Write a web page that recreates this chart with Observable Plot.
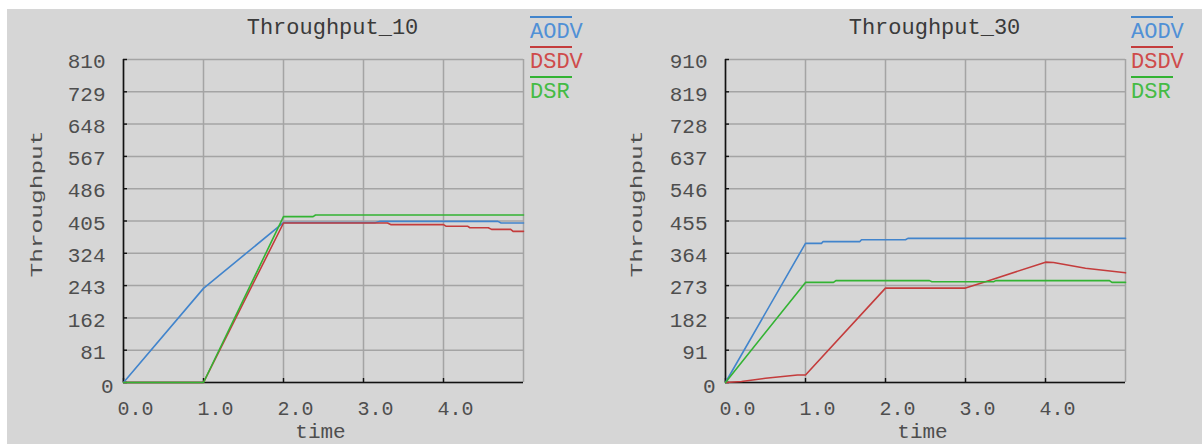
<!DOCTYPE html>
<html>
<head>
<meta charset="utf-8">
<script src="https://cdn.jsdelivr.net/npm/d3@7"></script>
<script src="https://cdn.jsdelivr.net/npm/@observablehq/plot@0.6"></script>
<style>
html, body { margin: 0; padding: 0; background: #fff; overflow: hidden; }
#wrap { position: relative; width: 1202px; height: 444px; background: #fff; overflow: hidden; }
#bg { position: absolute; left: 7px; top: 9px; right: 0; bottom: 0; background: #d6d6d6; }
.panel { position: absolute; top: 0; }
.legend { position: absolute; top: 0; font-family: "Liberation Mono", monospace; font-size: 22px; }
.legend .ln { position: absolute; left: 0; width: 42px; height: 2px; }
.legend .tx { position: absolute; left: 0; line-height: 22px; white-space: nowrap; }
</style>
</head>
<body>
<div id="wrap"><div id="bg"></div></div>
<script>
// ---- data ----
const protocols = ["AODV", "DSDV", "DSR"];
const lineColors = ["#4184cc", "#c43c3c", "#33b333"];
const legendTextColors = ["#5090d6", "#cf4b4b", "#45bb45"];

const xTicks = [0, 1, 2, 3, 4];
const xTickLabels = ["0.0", "1.0", "2.0", "3.0", "4.0"];
const xGrid = [0, 1, 2, 3, 4, 5];

const yTicks10 = [0, 81, 162, 243, 324, 405, 486, 567, 648, 729, 810];
const yTicks30 = [0, 91, 182, 273, 364, 455, 546, 637, 728, 819, 910];

const yLabel = "Throughput";
const xLabel = "time";

// Throughput_10 : [time, throughput]
const aodv10 = [[0,0],[1.0,236],[2.0,401],[3.15,401],[3.2,404],[4.68,404],[4.72,400],[5.0,400]];
const dsdv10 = [[0,0],[1.0,0],[2.0,400],[3.3,400],[3.34,396],[4.0,396],[4.03,392],[4.3,392],[4.33,388],[4.56,388],[4.6,384],[4.84,384],[4.87,379],[5.0,379]];
const dsr10  = [[0,0],[1.0,0],[2.0,416],[2.37,416],[2.4,420],[5.0,420]];

// Throughput_30 : [time, throughput]
const aodv30 = [[0,0],[1.0,392],[1.2,392],[1.22,397],[1.68,397],[1.7,402],[2.25,402],[2.28,406],[5.0,406]];
const dsdv30 = [[0,0],[0.2,3],[0.5,12],[0.9,21],[1.0,21],[2.0,266],[3.0,266],[3.25,284],[4.0,339],[4.1,338],[4.5,322],[5.0,309]];
const dsr30  = [[0,0],[1.0,282],[1.35,282],[1.38,287],[2.55,287],[2.58,284],[3.35,284],[3.38,287],[4.8,287],[4.83,282],[5.0,282]];

const panels = [
  {title: "Throughput_10", series: [aodv10, dsdv10, dsr10], yTicks: yTicks10, left: 0, width: 600, ml: 123, legendX: 530, ylDx: -87},
  {title: "Throughput_30", series: [aodv30, dsdv30, dsr30], yTicks: yTicks30, left: 600, width: 602, ml: 125, legendX: 1131, ylDx: -89}
];

const MT = 59, MB = 62, MR = 77, H = 444;
const textColor = "#4e4e4e";

function makePanel(p) {
  const rows = p.series.flatMap((s, i) => s.map(([t, v]) => ({t, v, p: protocols[i]})));
  const yMax = p.yTicks[p.yTicks.length - 1];
  const pw = p.width - p.ml - MR;
  const ph = H - MT - MB;
  return Plot.plot({
    width: p.width,
    height: H,
    marginLeft: p.ml,
    marginRight: MR,
    marginTop: MT,
    marginBottom: MB,
    x: {domain: [0, 5], axis: null},
    y: {domain: [0, yMax], axis: null},
    color: {domain: protocols, range: lineColors},
    style: {background: "transparent", fontFamily: "'Liberation Mono', monospace", fontSize: "21px", color: textColor, overflow: "visible"},
    marks: [
      Plot.gridX(xGrid, {stroke: "#a4a4a4", strokeOpacity: 1, strokeWidth: 1.5}),
      Plot.gridY(p.yTicks, {stroke: "#a4a4a4", strokeOpacity: 1, strokeWidth: 1.5}),
      Plot.ruleY([0], {stroke: "#111", strokeWidth: 1.6}),
      Plot.ruleX([0], {stroke: "#111", strokeWidth: 1.6}),
      Plot.tickY(p.yTicks, {y: d => d, insetRight: pw - 4, stroke: "#111", strokeWidth: 1.4}),
      Plot.tickX(xTicks, {x: d => d, insetTop: ph - 4, stroke: "#111", strokeWidth: 1.4}),
      Plot.axisY(p.yTicks.slice(1), {tickSize: 0, tickPadding: 18, dy: 2, label: null, fill: textColor, fontSize: 21}),
      Plot.text([{t: 0, v: 0}], {x: "t", y: "v", text: d => String(p.yTicks[0]), textAnchor: "end", dx: -10, dy: 4, fill: textColor, fontSize: 21}),
      Plot.axisX(xTicks, {tickSize: 0, tickPadding: 18, label: null, textAnchor: "start", dx: -6, fontSize: 20,
        tickFormat: d => xTickLabels[xTicks.indexOf(d)], fill: textColor}),
      Plot.line(rows, {x: "t", y: "v", z: "p", stroke: "p", strokeWidth: 1.6}),
      Plot.text([p.title], {text: d => d, frameAnchor: "top", textAnchor: "middle", lineAnchor: "bottom", dy: -26, dx: 9, fill: "#3a3a3a", fontSize: 22}),
      Plot.text([yLabel], {text: d => d, frameAnchor: "left", textAnchor: "middle", lineAnchor: "middle", rotate: -90, dx: p.ylDx, dy: -17, fill: textColor, fontSize: 16}),
      Plot.text([xLabel], {text: d => d, frameAnchor: "bottom", textAnchor: "middle", lineAnchor: "bottom", dy: 55, dx: -3, fill: textColor, fontSize: 21})
    ]
  });
}

const wrap = document.getElementById("wrap");
for (const p of panels) {
  const el = makePanel(p);
  el.classList.add("panel");
  el.style.left = p.left + "px";
  // the original's rotated axis title is drawn stretched along its length
  d3.select(el).selectAll("text")
    .filter(function () { return this.textContent === yLabel; })
    .attr("textLength", 147)
    .attr("lengthAdjust", "spacingAndGlyphs");
  wrap.appendChild(el);

  const lg = document.createElement("div");
  lg.className = "legend";
  lg.style.left = p.legendX + "px";
  protocols.forEach((name, i) => {
    const ln = document.createElement("div");
    ln.className = "ln";
    ln.style.top = (16 + 30 * i) + "px";
    ln.style.background = lineColors[i];
    const tx = document.createElement("div");
    tx.className = "tx";
    tx.style.top = (22 + 30 * i) + "px";
    tx.style.color = legendTextColors[i];
    tx.textContent = name;
    lg.appendChild(ln);
    lg.appendChild(tx);
  });
  wrap.appendChild(lg);
}
</script>
</body>
</html>
